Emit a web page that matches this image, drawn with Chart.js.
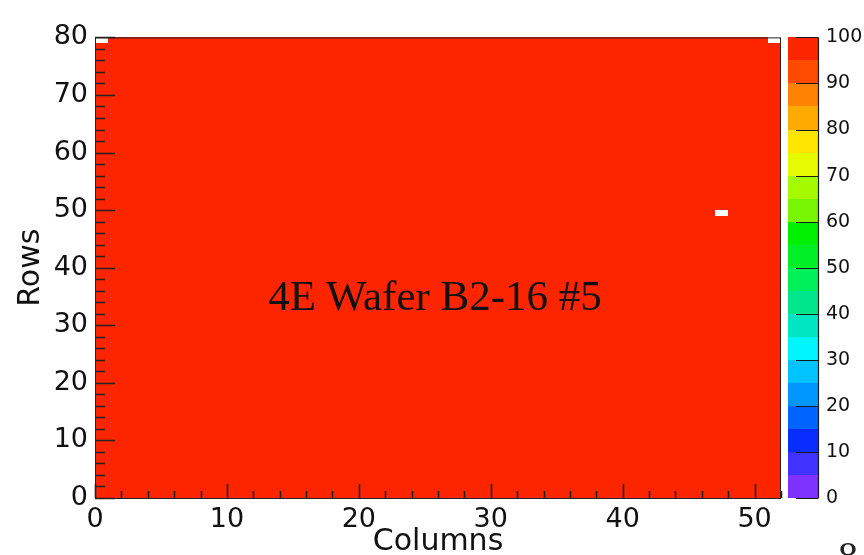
<!DOCTYPE html>
<html><head><meta charset="utf-8">
<script src="https://cdn.jsdelivr.net/npm/chart.js@4.4.1/dist/chart.umd.min.js"></script>
<style>
html,body{margin:0;padding:0;background:#fff;}
#wrap{position:relative;width:864px;height:555px;overflow:hidden;background:#fff;}
#c{position:absolute;left:0;top:-19px;}
#lbl{position:absolute;left:3px;top:274px;width:864px;text-align:center;font-family:'Liberation Serif',serif;font-size:43px;line-height:43px;color:#111;white-space:nowrap;}
#pg{position:absolute;left:838px;top:536px;font-family:'Liberation Serif',serif;font-size:40px;line-height:40px;color:#222;}
</style></head>
<body>
<div id="wrap">
<canvas id="c" width="864" height="574"></canvas>
<div id="lbl">4E Wafer B2-16 #5</div>
<div id="pg">8</div>
</div>
<script>
// ---- data ----
const nColumns = 52;            // columns 0..51
const nRows = 80;               // rows 0..79
const pixelEfficiency = 100;    // every live pixel responded (95-100 band)
const deadPixels = [            // empty (white) cells
  {col: 0,  row: 79},
  {col: 51, row: 79},
  {col: 47, row: 49}
];
const xTickValues = [0, 10, 20, 30, 40, 50];
const yTickValues = [0, 10, 20, 30, 40, 50, 60, 70, 80];
const zTickValues = [0, 10, 20, 30, 40, 50, 60, 70, 80, 90, 100];
const paletteColors = [
  '#7d32ff','#4032ff','#0a2dff','#0064ff','#0096ff','#00c3ff','#00f5ff','#00e6c3','#00e68c','#00f05a',
  '#00f028','#00f000','#78f500','#a5fa00','#e6fa00','#ffe600','#ffaa00','#ff8200','#ff4b00','#fd2400'
];

// build cell table
const cells = [];
for (let c = 0; c < nColumns; c++) {
  for (let r = 0; r < nRows; r++) {
    const dead = deadPixels.some(p => p.col === c && p.row === r);
    cells.push({x: c, y: r, v: dead ? 0 : pixelEfficiency});
  }
}

function colorFor(v) {
  const idx = Math.min(paletteColors.length - 1, Math.floor(v / (100 / paletteColors.length)));
  return paletteColors[idx];
}

const heatmapPlugin = {
  id: 'heatmap',
  beforeDatasetsDraw(chart) {
    const {ctx, scales: {x, y}} = chart;
    ctx.save();
    chart.data.datasets[0].data.forEach(d => {
      if (!(d.v > 0)) return;
      const x0 = Math.round(x.getPixelForValue(d.x));
      const x1 = Math.round(x.getPixelForValue(d.x + 1));
      const y0 = Math.round(y.getPixelForValue(d.y + 1));
      const y1 = Math.round(y.getPixelForValue(d.y));
      ctx.fillStyle = colorFor(d.v);
      ctx.fillRect(x0, y0, x1 - x0, y1 - y0);
    });
    ctx.restore();
  },
  afterDraw(chart) {
    const {ctx, chartArea: a, scales: {x, y, z}} = chart;
    ctx.save();
    // colour bar
    const bx0 = a.right + 7, bx1 = a.right + 37;
    const step = 100 / paletteColors.length;
    paletteColors.forEach((col, i) => {
      const t = Math.round(z.getPixelForValue((i + 1) * step));
      const b = Math.round(z.getPixelForValue(i * step));
      ctx.fillStyle = col;
      ctx.fillRect(bx0, t, bx1 - bx0, b - t);
    });
    ctx.strokeStyle = '#1a1a1a';
    ctx.lineWidth = 1.2;
    ctx.beginPath();
    ctx.moveTo(bx1 + 0.5, a.top); ctx.lineTo(bx1 + 0.5, a.bottom);
    zTickValues.forEach(v => {
      const py = Math.round(z.getPixelForValue(v)) + 0.5;
      ctx.moveTo(bx1 + 0.5, py); ctx.lineTo(bx1 - 22, py);
    });
    ctx.stroke();
    // frame
    ctx.lineWidth = 1;
    ctx.strokeStyle = '#222';
    ctx.strokeRect(a.left + 0.5, a.top + 0.5, a.right - a.left - 1, a.bottom - a.top);
    // ticks
    ctx.lineWidth = 1.6;
    ctx.beginPath();
    for (let v = 0; v <= nColumns; v += 2) {
      const px = Math.round(x.getPixelForValue(v)) + 0.5;
      const len = (v % 10 === 0) ? 14 : 7;
      ctx.moveTo(px, a.bottom); ctx.lineTo(px, a.bottom - len);
    }
    for (let v = 0; v <= nRows; v += 2) {
      const py = Math.round(y.getPixelForValue(v)) + 0.5;
      const len = (v % 10 === 0) ? 20 : 10;
      ctx.moveTo(a.left, py); ctx.lineTo(a.left + len, py);
    }
    ctx.stroke();
    ctx.restore();
  }
};

const tickFont = {family: 'DejaVu Sans', size: 27};
const titleFont = {family: 'DejaVu Sans', size: 30};
new Chart(document.getElementById('c'), {
  type: 'scatter',
  data: {datasets: [{label: 'hits', data: cells, pointRadius: 0, pointHoverRadius: 0}]},
  options: {
    responsive: false,
    animation: false,
    events: [],
    layout: {padding: {top: 18, left: 0, right: 0, bottom: 0}},
    plugins: {legend: {display: false}, tooltip: {enabled: false}},
    scales: {
      x: {
        type: 'linear', position: 'bottom', min: 0, max: nColumns,
        afterBuildTicks: s => { s.ticks = xTickValues.map(v => ({value: v})); },
        afterFit: s => { s.height = 57; },
        grid: {display: false, drawTicks: false}, border: {display: false},
        ticks: {font: tickFont, color: '#111', padding: 6, maxRotation: 0, autoSkip: false},
        title: {display: true, text: 'Columns', font: titleFont, color: '#111', padding: {top: 0, bottom: -5}}
      },
      y: {
        type: 'linear', position: 'left', min: 0, max: nRows,
        afterBuildTicks: s => { s.ticks = yTickValues.map(v => ({value: v})); },
        afterFit: s => { s.width = 95; },
        grid: {display: false, drawTicks: false}, border: {display: false},
        ticks: {font: tickFont, color: '#111', padding: 7, autoSkip: false},
        title: {display: true, text: 'Rows', font: titleFont, color: '#111', padding: {top: 13, bottom: 0}}
      },
      z: {
        type: 'linear', position: 'right', min: 0, max: 100,
        afterBuildTicks: s => { s.ticks = zTickValues.map(v => ({value: v})); },
        afterFit: s => { s.width = 83; },
        grid: {display: false, drawTicks: false}, border: {display: false},
        ticks: {font: {family: 'DejaVu Sans', size: 19}, color: '#111', padding: 45, autoSkip: false}
      }
    }
  },
  plugins: [heatmapPlugin]
});
</script>
</body></html>
